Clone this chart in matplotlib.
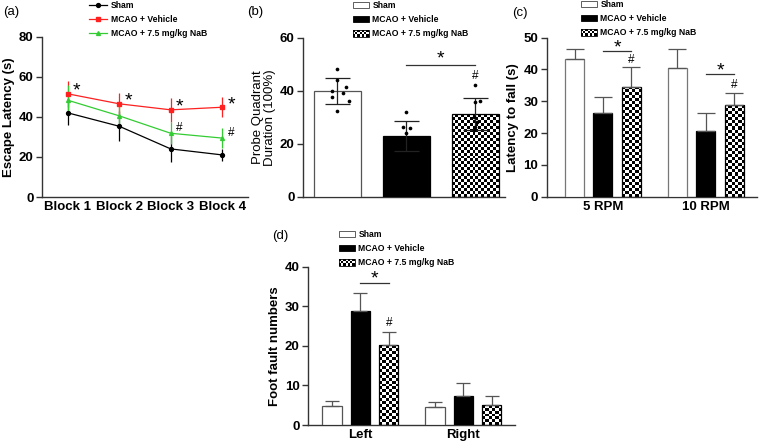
import numpy as np
import matplotlib
matplotlib.use('Agg')
import matplotlib.pyplot as plt
from matplotlib.patches import Rectangle, Patch
from matplotlib.lines import Line2D
from matplotlib.legend_handler import HandlerBase

plt.rcParams['font.family'] = ['Liberation Sans', 'DejaVu Sans']

# ---------------- data ----------------
groups = ['Sham', 'MCAO + Vehicle', 'MCAO + 7.5 mg/kg NaB']

# (a) Morris water maze
blocks = ['Block 1', 'Block 2', 'Block 3', 'Block 4']
a_sham = [42.0, 35.3, 24.0, 21.0]
a_sham_err = [6.0, 7.5, 6.5, 3.0]
a_veh = [51.5, 46.5, 43.5, 44.8]
a_veh_err = [6.5, 5.3, 6.0, 5.0]
a_nab = [48.3, 40.5, 31.8, 29.4]
a_nab_err = [7.5, 6.0, 5.5, 5.0]
a_veh_marks = ['*', '*', '*', '*']
a_nab_marks = ['', '', '#', '#']

# (b) probe quadrant duration
b_means = [39.8, 22.9, 31.2]
b_err = [5.0, 5.8, 5.9]
b_sham_pts = [48.1, 44.0, 41.5, 39.9, 39.0, 37.8, 36.3, 32.2]
b_veh_pts = [32.1, 26.2, 26.1, 24.1]
b_nab_pts = [42.2, 36.2, 35.6, 30.0, 28.1, 26.2, 25.0]

# (c) rotarod
c_conditions = ['5 RPM', '10 RPM']
c_sham = [43.2, 40.6]
c_sham_err = [3.4, 6.0]
c_veh = [26.2, 20.6]
c_veh_err = [5.2, 5.6]
c_nab = [34.6, 28.7]
c_nab_err = [6.3, 3.8]

# (d) foot fault
d_sides = ['Left', 'Right']
d_sham = [4.9, 4.45]
d_sham_err = [1.15, 1.25]
d_veh = [28.8, 7.3]
d_veh_err = [4.6, 3.2]
d_nab = [20.2, 5.0]
d_nab_err = [3.2, 2.3]

# ---------------- figure ----------------
W, H = 760, 447
fig = plt.figure(figsize=(W / 100, H / 100), dpi=100)


def ax_px(x0, x1, ytop, ybot):
    return fig.add_axes([x0 / W, 1 - ybot / H, (x1 - x0) / W, (ybot - ytop) / H])


SP = '#333333'
TICK_FS = 9.5
LAB_FS = 9.5
LEG_FS = 6.2
STAR_FS = 14


def style(ax):
    for s in ['top', 'right']:
        ax.spines[s].set_visible(False)
    for s in ['left', 'bottom']:
        ax.spines[s].set_color(SP)
        ax.spines[s].set_linewidth(1.0)
    ax.tick_params(axis='y', direction='out', length=4, width=1, color=SP,
                   labelsize=TICK_FS, pad=2)
    ax.tick_params(axis='x', length=0, labelsize=TICK_FS, pad=3)
    for lab in ax.get_yticklabels() + ax.get_xticklabels():
        lab.set_fontweight('bold')


def checker(ax, bars, cell=3.0):
    for r in bars:
        x0, y0, w, h = r.get_x(), r.get_y(), r.get_width(), r.get_height()
        p0 = ax.transData.transform((x0, y0))
        p1 = ax.transData.transform((x0 + w, y0 + h))
        nx = max(1, int(round(abs(p1[0] - p0[0]) / cell)))
        ny = max(1, int(round(abs(p1[1] - p0[1]) / cell)))
        arr = (np.add.outer(np.arange(ny), np.arange(nx)) % 2).astype(float)
        im = ax.imshow(arr, cmap='gray', vmin=0, vmax=1, extent=[x0, x0 + w, y0, y0 + h],
                       origin='lower', interpolation='nearest', aspect='auto', zorder=2)
        im.set_clip_path(r)


class HandlerChecker(HandlerBase):
    def create_artists(self, legend, orig_handle, xdescent, ydescent, width, height,
                       fontsize, trans):
        arts = []
        nx, ny = 7, 3
        x0, y0 = -xdescent, -ydescent
        cw, ch = width / nx, height / ny
        arts.append(Rectangle((x0, y0), width, height, facecolor='white', edgecolor='none',
                              transform=trans))
        for i in range(nx):
            for j in range(ny):
                if (i + j) % 2 == 0:
                    arts.append(Rectangle((x0 + i * cw, y0 + j * ch), cw, ch, facecolor='black',
                                          edgecolor='none', transform=trans))
        arts.append(Rectangle((x0, y0), width, height, facecolor='none', edgecolor='black',
                              lw=0.6, transform=trans))
        return arts


def bar_legend(x_px, y_px):
    handles = [Patch(facecolor='white', edgecolor='#444444', lw=0.6),
               Patch(facecolor='black', edgecolor='black', lw=0.6),
               Patch(facecolor='white')]
    leg = fig.legend(handles, groups, loc='upper left', bbox_to_anchor=(x_px / W, 1 - y_px / H),
                     frameon=False, borderpad=0, borderaxespad=0, handlelength=1.8,
                     handleheight=0.8, handletextpad=0.45, labelspacing=0.6,
                     prop={'size': LEG_FS, 'weight': 'bold'},
                     handler_map={handles[2]: HandlerChecker()})
    return leg


def panel_label(x_px, y_px, s):
    fig.text(x_px / W, 1 - y_px / H, s, fontsize=9.5, ha='left', va='center')


# ---------- (a) ----------
ax = ax_px(42, 248, 36.7, 197)
xa = np.arange(1, len(blocks) + 1)
cfg = [(a_sham, a_sham_err, 'black', 'o', groups[0]),
       (a_veh, a_veh_err, '#ff2020', 's', groups[1]),
       (a_nab, a_nab_err, '#33cc33', '^', groups[2])]
lines = []
for vals, err, col, mk, lab in cfg:
    ax.errorbar(xa, vals, yerr=err, color=col, marker=mk, markersize=2.8, lw=0.9,
                elinewidth=0.9, capsize=0, label=lab)
    lines.append(Line2D([], [], color=col, marker=mk, markersize=2.8, lw=0.9))
for i, m in enumerate(a_veh_marks):
    if m:
        ax.text(xa[i] + 0.17, a_veh[i] + 1.2, m, fontsize=STAR_FS, ha='center', va='center')
for i, m in enumerate(a_nab_marks):
    if m:
        ax.text(xa[i] + 0.17, a_nab[i] + 2.6, m, fontsize=8.5, ha='center', va='center')
ax.set_xlim(0.5, 4.5)
ax.set_ylim(0, 80)
ax.set_yticks([0, 20, 40, 60, 80])
ax.set_xticks(xa)
ax.set_xticklabels(blocks)
ax.set_ylabel('Escape Latency (s)', fontsize=LAB_FS, fontweight='bold', labelpad=3)
style(ax)
fig.legend(lines, groups, loc='upper left', bbox_to_anchor=(89 / W, 1 - 1 / H),
           frameon=False, borderpad=0, borderaxespad=0, handlelength=2.1,
           handletextpad=0.4, labelspacing=0.6, prop={'size': LEG_FS, 'weight': 'bold'})
panel_label(3, 12, '(a)')

# ---------- (b) ----------
ax = ax_px(303, 505, 37.7, 196.7)
xb = np.arange(3)
ax.set_xlim(-0.5, 2.43)
ax.set_ylim(0, 60)
bw = 0.68
bars = ax.bar(xb, b_means, width=bw, color=['white', 'black', 'none'],
              edgecolor=['#555555', 'black', 'black'], lw=0.9, zorder=3)
checker(ax, [bars[2]])
ax.errorbar(xb, b_means, yerr=b_err, fmt='none', ecolor='#222222', elinewidth=0.9,
            capsize=9, capthick=0.9, zorder=4)
jit_s = [0.0, 0.0, 0.13, -0.08, 0.08, -0.08, 0.16, 0.0]
jit_v = [0.0, -0.05, 0.05, 0.0]
jit_n = [0.0, 0.07, 0.0, -0.02, 0.03, 0.0, -0.02]
for xc, pts, jit in [(0, b_sham_pts, jit_s), (1, b_veh_pts, jit_v), (2, b_nab_pts, jit_n)]:
    ax.scatter(xc + np.array(jit), pts, s=7, color='black', zorder=5, linewidths=0)
ax.plot([1, 2], [49.6, 49.6], color='#333333', lw=0.9)
ax.text(1.5, 52.0, '*', fontsize=STAR_FS, ha='center', va='center')
ax.text(2, 45.5, '#', fontsize=8.5, ha='center', va='center')
ax.set_yticks([0, 20, 40, 60])
ax.set_xticks([])
ax.set_ylabel('Probe Quadrant\nDuration (100%)', fontsize=LAB_FS, labelpad=3,
              linespacing=1.0)
style(ax)
bar_legend(353, 1)
panel_label(247, 12, '(b)')

# ---------- (c) ----------
ax = ax_px(546.7, 756.7, 37.7, 196.7)
xc = np.arange(len(c_conditions))
off, bw = 0.275, 0.185
ax.set_xlim(-0.545, 1.494)
ax.set_ylim(0, 50)
b1 = ax.bar(xc - off, c_sham, width=bw, color='white', edgecolor='#777777', lw=0.9, zorder=3)
b2 = ax.bar(xc, c_veh, width=bw, color='black', edgecolor='black', lw=0.9, zorder=3)
b3 = ax.bar(xc + off, c_nab, width=bw, color='none', edgecolor='black', lw=0.9, zorder=3)
checker(ax, b3)
for xs, v, e in [(xc - off, c_sham, c_sham_err), (xc, c_veh, c_veh_err), (xc + off, c_nab, c_nab_err)]:
    ax.errorbar(xs, v, yerr=[np.zeros(len(e)), e], fmt='none', ecolor='#555555',
                elinewidth=0.9, capsize=6.5, capthick=0.9, zorder=4)
for i, (yl, yh) in enumerate([(45.9, 43.0), (38.5, 35.0)]):
    ax.plot([xc[i], xc[i] + off], [yl, yl], color='#333333', lw=0.9)
    ax.text(xc[i] + off / 2, yl + 0.9, '*', fontsize=STAR_FS, ha='center', va='center')
    ax.text(xc[i] + off, yh, '#', fontsize=8.5, ha='center', va='center')
ax.set_yticks([0, 10, 20, 30, 40, 50])
ax.set_xticks(xc)
ax.set_xticklabels(c_conditions)
ax.set_ylabel('Latency to fall (s)', fontsize=LAB_FS, fontweight='bold', labelpad=3)
style(ax)
bar_legend(581, 0)
panel_label(512, 13, '(c)')

# ---------- (d) ----------
ax = ax_px(308, 515, 266.7, 425)
xd = np.arange(len(d_sides))
off, bw = 0.275, 0.187
ax.set_xlim(-0.508, 1.50)
ax.set_ylim(0, 40)
b1 = ax.bar(xd - off, d_sham, width=bw, color='white', edgecolor='#555555', lw=0.9, zorder=3)
b2 = ax.bar(xd, d_veh, width=bw, color='black', edgecolor='black', lw=0.9, zorder=3)
b3 = ax.bar(xd + off, d_nab, width=bw, color='none', edgecolor='black', lw=0.9, zorder=3)
checker(ax, b3)
for xs, v, e in [(xd - off, d_sham, d_sham_err), (xd, d_veh, d_veh_err), (xd + off, d_nab, d_nab_err)]:
    ax.errorbar(xs, v, yerr=[np.zeros(len(e)), e], fmt='none', ecolor='#555555',
                elinewidth=0.9, capsize=5, capthick=0.9, zorder=4)
ax.plot([xd[0], xd[0] + off], [35.9, 35.9], color='#333333', lw=0.9)
ax.text(xd[0] + off / 2, 36.8, '*', fontsize=STAR_FS, ha='center', va='center')
ax.text(xd[0] + off, 25.8, '#', fontsize=8.5, ha='center', va='center')
ax.set_yticks([0, 10, 20, 30, 40])
ax.set_xticks(xd)
ax.set_xticklabels(d_sides)
ax.set_ylabel('Foot fault numbers', fontsize=LAB_FS, fontweight='bold', labelpad=3)
style(ax)
bar_legend(339, 230)
panel_label(272, 236, '(d)')

fig.savefig('out.png', dpi=100)
